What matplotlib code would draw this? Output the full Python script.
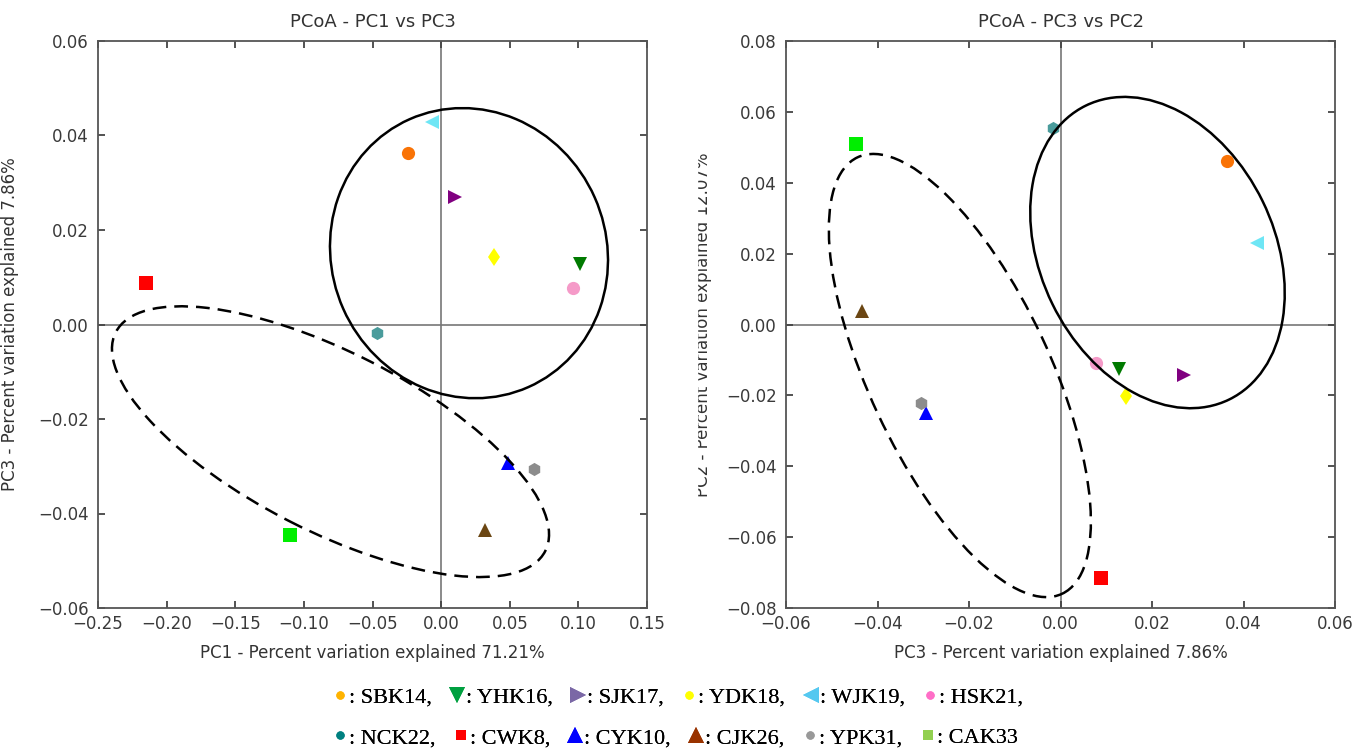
import matplotlib.pyplot as plt
from matplotlib.patches import Ellipse, Rectangle
from matplotlib.lines import Line2D
from matplotlib.transforms import ScaledTranslation

# samples and PCoA coordinates
samples = ["SBK14", "YHK16", "SJK17", "YDK18", "WJK19", "HSK21",
           "NCK22", "CWK8", "CYK10", "CJK26", "YPK31", "CAK33"]
pc1 = [-0.024, 0.101, 0.010, 0.0385, -0.0066, 0.096,
       -0.0467, -0.215, 0.0487, 0.032, 0.0677, -0.110]
pc2 = [0.0461, -0.0126, -0.0143, -0.0202, 0.0230, -0.0109,
       0.0554, -0.0715, -0.0250, 0.0038, -0.0221, 0.0509]
pc3 = [0.0363, 0.0128, 0.0270, 0.0143, 0.0429, 0.0077,
       -0.0017, 0.0088, -0.0294, -0.0434, -0.0306, -0.0446]

markers = ["o", "v", ">", "d", "<", "o", "h", "s", "^", "^", "h", "s"]
colors = ["#F97306", "#007A00", "#800080", "#FFFF00", "#6EE6F5", "#F59AC8",
          "#4A9C9C", "#FF0000", "#0000FF", "#6B4613", "#8C8C8C", "#00EE00"]

# legend strip under the panels uses its own palette
legend_markers = ["o", "v", ">", "o", "<", "o", "o", "s", "^", "^", "o", "s"]
legend_colors = ["#FFB300", "#00A040", "#7B68A6", "#FFFF00", "#55C8F0", "#FF6EC7",
                 "#008080", "#FF0000", "#0000FF", "#993300", "#999999", "#92D050"]
legend_sizes = [6, 11, 11, 6, 11, 6, 6, 7, 11, 11, 6, 7]

# hand drawn group ellipses: centre (data), width/height (px), angle, style
ellipses_left = [((0.0203, 0.0151), 275, 293, 23.9, "-"),
                 ((-0.0806, -0.0248), 482, 179, -27.0, "--")]
ellipses_right = [((0.0212, 0.0203), 234, 327, 26.0, "-"),
                  ((-0.0220, -0.0144), 181, 482, 25.1, "--")]

fig = plt.figure(figsize=(13.7, 7.54), dpi=100)
ax1 = fig.add_axes([98 / 1370, 146 / 754, 549 / 1370, 567 / 754])
ax2 = fig.add_axes([786 / 1370, 146 / 754, 549 / 1370, 567 / 754])


def style(ax):
    for s in ax.spines.values():
        s.set_color("#555555")
        s.set_linewidth(1.3)
    ax.tick_params(direction="in", top=True, right=True, length=5, width=1.3,
                   color="#444444", labelcolor="#3a3a3a", labelsize=12)
    ax.tick_params(axis="y", pad=6.5)
    ax.tick_params(axis="x", pad=5)
    ax.axhline(0, color="#777777", lw=1.2, zorder=1)
    ax.axvline(0, color="#777777", lw=1.2, zorder=1)


def draw(ax, xs, ys, ells):
    for x, y, m, c in zip(xs, ys, markers, colors):
        ax.plot(x, y, ls="none", marker=m, color=c, ms=9.5, mew=0, zorder=3)
    for (cx, cy), w, h, ang, ls in ells:
        tr = fig.dpi_scale_trans + ScaledTranslation(cx, cy, ax.transData)
        ax.add_patch(Ellipse((0, 0), w / 100, h / 100, angle=ang, transform=tr,
                             fill=False, ec="black", lw=1.8,
                             ls="-" if ls == "-" else (0, (5.5, 3.2)), zorder=4))


style(ax1)
draw(ax1, pc1, pc3, ellipses_left)
ax1.set_xlim(-0.25, 0.15)
ax1.set_ylim(-0.06, 0.06)
ax1.set_title("PCoA - PC1 vs PC3", fontsize=13, color="#333333", pad=10)
ax1.set_xlabel("PC1 - Percent variation explained 71.21%", fontsize=12,
               color="#333333", labelpad=8)
ax1.set_ylabel("PC3 - Percent variation explained 7.86%", fontsize=12,
               color="#333333")
ax1.yaxis.set_label_coords(-0.143, 0.5)

style(ax2)
draw(ax2, pc3, pc2, ellipses_right)
ax2.set_xlim(-0.06, 0.06)
ax2.set_ylim(-0.08, 0.08)
ax2.set_title("PCoA - PC3 vs PC2", fontsize=13, color="#333333", pad=10)
ax2.set_xlabel("PC3 - Percent variation explained 7.86%", fontsize=12,
               color="#333333", labelpad=8)
ax2.set_ylabel("PC2 - Percent variation explained 12.07%", fontsize=12,
               color="#333333")
ax2.yaxis.set_label_coords(-0.135, 0.5)

# the right panel's y label is cut off on its left side in the source figure
fig.patches.append(Rectangle((665 / 1370, 0.25), 32 / 1370, 0.6,
                             transform=fig.transFigure, color="white", zorder=10))

# two-row legend strip
handles = [Line2D([], [], ls="none", marker=m, color=c, ms=s, mew=0)
           for m, c, s in zip(legend_markers, legend_colors, legend_sizes)]
labels = [": " + s + "," for s in samples[:-1]] + [": " + samples[-1]]
for row, yy in ((0, 1 - 697 / 754), (1, 1 - 738 / 754)):
    sl = slice(row * 6, row * 6 + 6)
    leg = fig.legend(handles[sl], labels[sl], loc="center left",
                     bbox_to_anchor=(333 / 1370, yy), ncol=6, frameon=False,
                     borderpad=0, borderaxespad=0, handlelength=0.6,
                     handletextpad=0.1, columnspacing=0.85,
                     prop={"family": "Liberation Serif", "size": 16})
    fig.add_artist(leg)

fig.savefig("out.png", dpi=100)
